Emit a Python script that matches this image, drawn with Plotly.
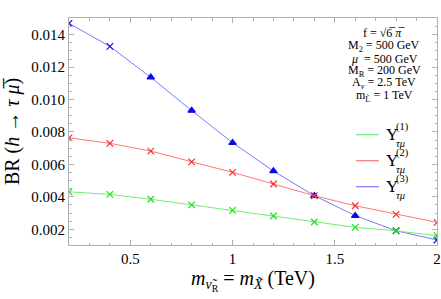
import plotly.graph_objects as go

# ---- data ----
mass = [0.2, 0.4, 0.6, 0.8, 1.0, 1.2, 1.4, 1.6, 1.8, 2.0]
y1 = [0.00431, 0.00415, 0.00385, 0.00350, 0.00317, 0.00282, 0.00245, 0.00212, 0.00190, 0.00161]
y2 = [0.00764, 0.00730, 0.00682, 0.00616, 0.00551, 0.00479, 0.00407, 0.00345, 0.00292, 0.00243]
y3 = [0.01470, 0.01328, 0.01137, 0.00932, 0.00734, 0.00559, 0.00407, 0.00284, 0.00191, 0.00134]
series_names = ["Y(1)", "Y(2)", "Y(3)"]
x_ticks = [0.5, 1, 1.5, 2]
x_tick_text = ["0.5", "1", "1.5", "2"]
y_ticks = [0.002, 0.004, 0.006, 0.008, 0.010, 0.012, 0.014]
y_tick_text = ["0.002", "0.004", "0.006", "0.008", "0.010", "0.012", "0.014"]
params = ["f = √6̅ <i>π</i>̅", "M<sub>2</sub> = 500 GeV", "<i>μ</i>  = 500 GeV",
          "M<sub>R</sub> = 200 GeV", "A<sub><i>ν</i></sub> = 2.5 TeV", "m<sub>L̃</sub> = 1 TeV"]
legend_sup = ["(1)", "(2)", "(3)"]

W, H = 441, 299
L, R, T, B = 69, 4, 18, 54
PW, PH = W - L - R, H - T - B

def px(x):
    return (x - L) / PW

def py(y):
    return (H - B - y) / PH

line_cols = ["#70ee70", "#ff7878", "#7878ff"]
mark_cols = ["#22dd22", "#ee3030", "#0a0aee"]
sym3 = ["x-thin-open", "x-thin-open", "triangle-up", "triangle-up", "triangle-up",
        "triangle-up", "triangle-up", "triangle-up", "x-thin-open", "x-thin-open"]

fig = go.Figure()
# blue first, then green and red so red crosses appear on top
order = [(2, y3), (0, y1), (1, y2)]
for i, ys in order:
    syms = sym3 if i == 2 else ["x-thin-open"] * len(mass)
    fig.add_trace(go.Scatter(
        x=mass, y=ys, mode="lines+markers", name=series_names[i],
        line=dict(color=line_cols[i], width=1),
        marker=dict(symbol=syms, size=6.5, color=mark_cols[i],
                    line=dict(color=mark_cols[i], width=1.2)),
        showlegend=False, cliponaxis=True))

serif = "Liberation Serif, Times New Roman, serif"
axis_common = dict(showline=True, linecolor="#b0b0b0", linewidth=1, mirror="ticks",
                   ticks="inside", ticklen=5, tickcolor="#b0b0b0", tickwidth=1,
                   showgrid=False, zeroline=False, ticklabeloverflow="allow",
                   tickfont=dict(family=serif, size=15, color="black"))

fig.update_xaxes(range=[0.2, 2.0], tickvals=x_ticks, ticktext=x_tick_text,
                 minor=dict(dtick=0.1, tick0=0, ticks="inside", ticklen=2.5,
                            tickcolor="#b0b0b0", showgrid=False),
                 title=dict(text="<i>m</i><sub><i>ν̃</i><sub>R</sub></sub> = <i>m</i><sub><i>X̃</i></sub> (TeV)",
                            font=dict(family=serif, size=20, color="black"), standoff=0),
                 **axis_common)
fig.update_yaxes(range=[0.00103, 0.01503], tickvals=y_ticks, ticktext=y_tick_text,
                 minor=dict(dtick=0.0005, tick0=0, ticks="inside", ticklen=2.5,
                            tickcolor="#b0b0b0", showgrid=False),
                 title=dict(text="BR (<i>h</i> → <i>τ</i> <i>μ̅</i>)",
                            font=dict(family=serif, size=20, color="black"), standoff=6),
                 **axis_common)

ann = []
param_y = [33, 46, 59, 71, 83, 96]
for t, yy in zip(params, param_y):
    ann.append(dict(x=px(384), y=py(yy), xref="paper", yref="paper", text=t,
                    showarrow=False, xanchor="center", yanchor="middle",
                    font=dict(family=serif, size=12, color="black")))

leg_y = [134.7, 160.7, 186.7]
shapes = []
for i in range(3):
    shapes.append(dict(type="line", xref="paper", yref="paper",
                       x0=px(356), x1=px(379), y0=py(leg_y[i]), y1=py(leg_y[i]),
                       line=dict(color=line_cols[i], width=1.2)))
    ann.append(dict(x=px(384), y=py(leg_y[i]), xref="paper", yref="paper", text="Y",
                    showarrow=False, xanchor="left", yanchor="middle",
                    font=dict(family=serif, size=17, color="black")))
    ann.append(dict(x=px(394), y=py(leg_y[i] - 8), xref="paper", yref="paper",
                    text=legend_sup[i], showarrow=False, xanchor="left", yanchor="middle",
                    font=dict(family=serif, size=10.5, color="black")))
    ann.append(dict(x=px(394), y=py(leg_y[i] + 8.5), xref="paper", yref="paper",
                    text="<i>τμ</i>", showarrow=False, xanchor="left", yanchor="middle",
                    font=dict(family=serif, size=10.5, color="black")))

fig.update_layout(width=W, height=H, margin=dict(l=L, r=R, t=T, b=B, autoexpand=False),
                  paper_bgcolor="white", plot_bgcolor="white",
                  annotations=ann, shapes=shapes, showlegend=False)

fig.write_html("out.html", config={"displayModeBar": False},
               post_script="document.body.style.margin='0';document.body.style.padding='0';"
                           "document.documentElement.style.overflow='hidden';")
